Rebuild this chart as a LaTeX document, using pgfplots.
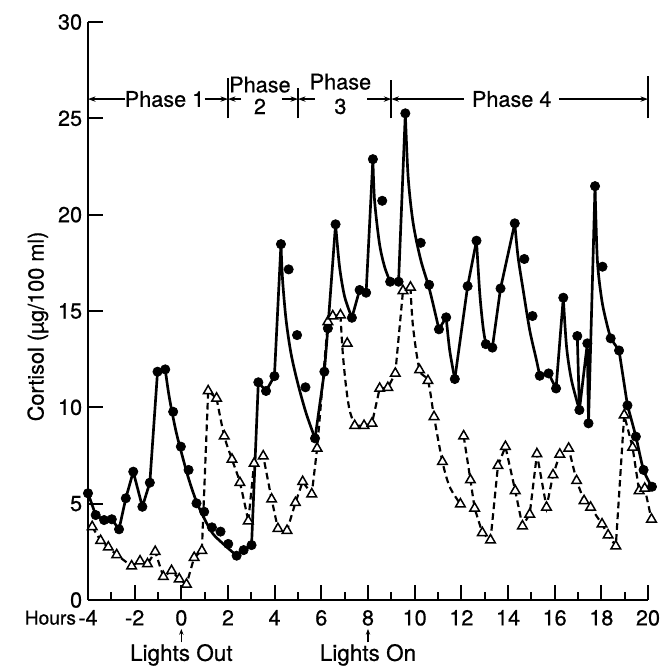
\documentclass[border=0pt]{standalone}
\usepackage{pgfplots}
\pgfplotsset{compat=1.18}
\usepackage{fontspec}
\setmainfont{TeX Gyre Heros}[FakeBold=0.6]
\usetikzlibrary{arrows.meta}

\begin{document}
\begin{tikzpicture}[x=1pt,y=1pt,
    arr/.style={-{Stealth[length=4.5pt,width=3.2pt]}, line width=0.9pt}]
% page = 660 x 666 px at 0.6pt per px, axis origin at px (88,600)
\useasboundingbox (-52.8,-39.6) rectangle (343.2,360);
\begin{axis}[
    width=336pt, height=346.8pt, scale only axis,
    xmin=-4, xmax=20, ymin=0, ymax=30,
    axis lines*=left,
    axis line style={line width=1.3pt},
    tick align=inside,
    xtick={-4,-2,...,20}, minor xtick={-3,-1,...,19},
    ytick={0,5,...,30},
    major tick length=9pt, minor tick length=5pt,
    every tick/.style={black, line width=1.1pt},
    tick label style={font=\fontsize{13}{15}\selectfont},
    xticklabel style={yshift=-2.5pt},
    /pgf/number format/assume math mode=true,
    clip=false,
    solidline/.style={black, line width=1.6pt, no markers},
    dashline/.style={black, line width=1.3pt, dash pattern=on 4pt off 2.5pt, no markers},
]
% ---- solid line (fitted rises and decays)
\addplot[solidline] coordinates {(-4.0,5.54)(-3.67,4.41)(-3.31,4.15)(-2.98,4.19)(-2.67,3.67)(-2.38,5.28)(-2.06,6.66)(-1.67,4.84)(-1.35,6.09)(-1.02,11.85)(-0.69,11.97)};
\addplot[solidline, smooth] coordinates {(-0.69,11.97)(-0.52,10.55)(-0.24,8.82)(0.05,7.44)(0.33,6.23)(0.65,5.10)(0.98,4.24)(1.34,3.46)(1.77,2.94)(2.37,2.30)};
\addplot[solidline] coordinates {(2.37,2.30)(2.67,2.59)(3.01,2.85)(3.30,11.30)(3.63,10.85)(3.99,11.62)(4.27,18.47)};
\addplot[solidline, smooth] coordinates {(4.27,18.47)(4.34,16.6)(4.49,14.53)(4.70,12.80)(4.99,11.25)(5.35,9.69)(5.73,8.39)};
\addplot[solidline] coordinates {(5.73,8.39)(6.13,11.85)(6.28,14.1)(6.61,19.5)};
\addplot[solidline, smooth] coordinates {(6.61,19.5)(6.78,17.3)(7.0,15.74)(7.31,14.65)};
\addplot[solidline] coordinates {(7.31,14.65)(7.64,16.09)(7.92,15.95)(8.21,22.88)};
\addplot[solidline, smooth] coordinates {(8.21,22.88)(8.28,20.76)(8.49,18.51)(8.71,17.30)(8.95,16.52)};
\addplot[solidline] coordinates {(8.95,16.52)(9.31,16.52)(9.60,25.26)};
\addplot[solidline, smooth] coordinates {(9.60,25.26)(9.72,21.97)(9.93,19.6)(10.25,17.7)(10.64,16.1)(11.04,14.05)};
\addplot[solidline] coordinates {(11.04,14.05)(11.35,14.67)};
\addplot[solidline, smooth] coordinates {(11.35,14.67)(11.50,12.97)(11.72,11.47)};
\addplot[solidline] coordinates {(11.72,11.47)(12.27,16.29)(12.65,18.65)};
\addplot[solidline, smooth] coordinates {(12.65,18.65)(12.79,15.92)(12.93,14.18)(13.05,13.28)};
\addplot[solidline] coordinates {(13.05,13.28)(13.33,13.10)(13.68,16.17)(14.29,19.55)};
\addplot[solidline, smooth] coordinates {(14.29,19.55)(14.43,17.82)(14.65,16.09)(14.93,14.01)(15.22,12.45)(15.36,11.64)};
\addplot[solidline] coordinates {(15.36,11.64)(15.74,11.76)(16.06,10.98)(16.37,15.69)};
\addplot[solidline, smooth] coordinates {(16.37,15.69)(16.51,13.14)(16.72,11.42)(17.06,9.86)};
\addplot[solidline] coordinates {(16.97,13.70)(17.06,9.86)(17.40,13.32)(17.45,9.17)(17.73,21.48)};
\addplot[solidline, smooth] coordinates {(17.73,21.48)(17.83,17.64)(18.02,15.57)(18.23,14.36)(18.40,13.58)};
\addplot[solidline] coordinates {(18.40,13.58)(18.76,12.95)(19.12,10.1)};
\addplot[solidline, smooth] coordinates {(19.12,10.1)(19.48,8.48)(19.81,6.75)(20.17,5.88)};

% ---- dashed line
\addplot[dashline] coordinates {(-3.82,3.80)(-3.46,3.08)(-3.13,2.74)(-2.77,2.34)(-2.13,1.76)(-1.77,2.02)(-1.45,1.87)(-1.12,2.51)(-0.77,1.21)(-0.42,1.52)(-0.09,1.09)(0.22,0.81)(0.55,2.20)(0.88,2.56)(1.15,10.85)(1.51,10.47)};
\addplot[dashline, smooth] coordinates {(1.51,10.47)(1.84,8.51)(2.17,7.30)(2.51,6.09)(2.87,4.10)};
\addplot[dashline] coordinates {(2.87,4.10)(3.12,7.09)(3.51,7.47)(3.87,5.23)(4.14,3.70)(4.53,3.60)(4.89,5.05)(5.20,6.14)(5.59,5.50)(5.82,7.87)(6.28,14.44)(6.49,14.74)(6.82,14.79)};
\addplot[dashline, smooth] coordinates {(6.82,14.79)(6.92,12.80)(7.06,11.07)(7.21,9.86)(7.43,9.05)};
\addplot[dashline] coordinates {(7.43,9.05)(7.83,9.05)(8.17,9.17)(8.50,10.98)(8.85,11.02)(9.17,11.76)(9.50,16.05)(9.82,16.23)};
\addplot[dashline, smooth] coordinates {(9.82,16.23)(9.93,14.18)(10.21,11.94)(10.57,11.38)(10.83,9.51)(11.19,7.18)(11.5,5.88)(11.96,4.98)};
\addplot[dashline] coordinates {(12.10,8.51)(12.39,6.23)(12.57,4.76)(12.90,3.49)(13.25,3.11)(13.57,6.97)(13.89,7.96)(14.31,5.67)(14.62,3.84)(14.93,4.45)(15.24,7.58)(15.65,4.81)(15.93,6.49)(16.22,7.56)(16.60,7.87)(16.94,6.19)(17.26,5.15)(17.54,4.81)(18.03,3.94)(18.29,3.37)(18.62,2.80)(18.98,9.60)(19.34,7.92)(19.62,5.67)(19.86,5.79)(20.15,4.19)};

% ---- filled circles (measured values)
\addplot[only marks, mark=*, mark size=2.8pt, black] coordinates {
(-4.0,5.54)(-3.67,4.41)(-3.31,4.15)(-2.98,4.19)(-2.67,3.67)(-2.38,5.28)(-2.06,6.66)(-1.67,4.84)(-1.35,6.09)(-1.02,11.85)(-0.69,11.97)
(-0.35,9.77)(-0.02,7.96)(0.31,6.75)(0.65,5.02)(0.98,4.58)(1.31,3.77)(1.68,3.55)(2.01,2.91)(2.37,2.30)(2.67,2.59)(3.01,2.85)
(3.30,11.30)(3.63,10.85)(3.99,11.62)(4.27,18.47)(4.60,17.16)(4.96,13.75)(5.32,11.04)(5.73,8.39)(6.13,11.85)(6.28,14.1)(6.61,19.5)
(7.31,14.65)(7.64,16.09)(7.92,15.95)(8.21,22.88)(8.61,20.72)(8.95,16.52)(9.31,16.52)(9.60,25.26)(10.26,18.54)(10.62,16.36)
(11.04,14.05)(11.35,14.67)(11.72,11.47)(12.27,16.29)(12.65,18.65)(13.05,13.28)(13.33,13.10)(13.68,16.17)(14.29,19.55)(14.70,17.7)
(15.05,14.74)(15.36,11.64)(15.74,11.76)(16.06,10.98)(16.37,15.69)(16.97,13.70)(17.06,9.86)(17.40,13.32)(17.45,9.17)(17.73,21.48)
(18.05,17.30)(18.40,13.58)(18.76,12.95)(19.12,10.1)(19.48,8.48)(19.81,6.75)(20.17,5.88)};

% ---- open triangles (measured values)
\addplot[only marks, mark=triangle*, mark size=3.3pt, mark options={fill=white, draw=black, line width=0.9pt, solid}] coordinates {
(-3.82,3.80)(-3.46,3.08)(-3.13,2.74)(-2.77,2.34)(-2.13,1.76)(-1.77,2.02)(-1.45,1.87)(-1.12,2.51)(-0.77,1.21)(-0.42,1.52)(-0.09,1.09)(0.22,0.81)
(0.55,2.20)(0.88,2.56)(1.15,10.85)(1.51,10.47)(1.84,8.51)(2.17,7.30)(2.51,6.09)(2.87,4.10)(3.12,7.09)(3.51,7.47)(3.87,5.23)(4.14,3.70)
(4.53,3.60)(4.89,5.05)(5.20,6.14)(5.59,5.50)(5.82,7.87)(6.28,14.44)(6.49,14.74)(6.82,14.79)(7.11,13.32)(7.43,9.05)(7.83,9.05)(8.17,9.17)
(8.50,10.98)(8.85,11.02)(9.17,11.76)(9.50,16.05)(9.82,16.23)(10.21,11.94)(10.57,11.38)(10.83,9.51)(11.19,7.18)(11.96,4.98)
(12.10,8.51)(12.39,6.23)(12.57,4.76)(12.90,3.49)(13.25,3.11)(13.57,6.97)(13.89,7.96)(14.31,5.67)(14.62,3.84)(14.93,4.45)(15.24,7.58)
(15.65,4.81)(15.93,6.49)(16.22,7.56)(16.60,7.87)(16.94,6.19)(17.26,5.15)(17.54,4.81)(18.03,3.94)(18.29,3.37)(18.62,2.80)(18.98,9.60)
(19.34,7.92)(19.62,5.67)(19.86,5.79)(20.15,4.19)};

% ---- phase header
\draw[arr] (axis cs:-2.4,26) -- (axis cs:-4,26);
\draw[arr] (axis cs:1.0,26) -- (axis cs:2,26);
\draw[arr] (axis cs:2.56,26) -- (axis cs:2,26);
\draw[arr] (axis cs:4.31,26) -- (axis cs:5,26);
\draw[arr] (axis cs:5.71,26) -- (axis cs:5,26);
\draw[arr] (axis cs:7.96,26) -- (axis cs:9,26);
\draw[arr] (axis cs:12.1,26) -- (axis cs:9,26);
\draw[arr] (axis cs:16.2,26) -- (axis cs:20,26);
\draw[line width=1.1pt] (axis cs:2,25.0) -- (axis cs:2,27.1);
\draw[line width=1.1pt] (axis cs:5,25.0) -- (axis cs:5,26.6);
\draw[line width=1.1pt] (axis cs:9,25.0) -- (axis cs:9,27.0);
\draw[line width=1.1pt] (axis cs:20,25.0) -- (axis cs:20,27.2);
\begin{scope}[every node/.style={font=\fontsize{13}{15}\selectfont, inner sep=0pt}]
\node at (axis cs:-0.72,26) {Phase 1};
\node at (axis cs:3.37,26.75) {Phase};
\node at (axis cs:3.37,25.62) {2};
\node at (axis cs:6.82,26.9) {Phase};
\node at (axis cs:6.82,25.62) {3};
\node at (axis cs:14.16,26) {Phase 4};
\end{scope}

% ---- bottom annotations
\node[font=\fontsize{11.5}{14}\selectfont, inner sep=0pt, anchor=east] at (axis cs:-4.5,-0.92) {Hours};
\draw[-{Stealth[length=3.5pt,width=2.6pt]}, line width=0.8pt] (axis cs:0,-2.2) -- (axis cs:0,-1.5);
\draw[-{Stealth[length=3.5pt,width=2.6pt]}, line width=0.8pt] (axis cs:8,-2.2) -- (axis cs:8,-1.5);
\node[font=\fontsize{13.5}{15}\selectfont, inner sep=0pt] at (axis cs:0,-2.85) {Lights Out};
\node[font=\fontsize{13.5}{15}\selectfont, inner sep=0pt] at (axis cs:8,-2.85) {Lights On};
\node[rotate=90, font=\fontsize{13}{15}\selectfont, inner sep=0pt] at (axis cs:-6.15,14.2) {Cortisol (µg/100 ml)};
\end{axis}
\end{tikzpicture}
\end{document}
